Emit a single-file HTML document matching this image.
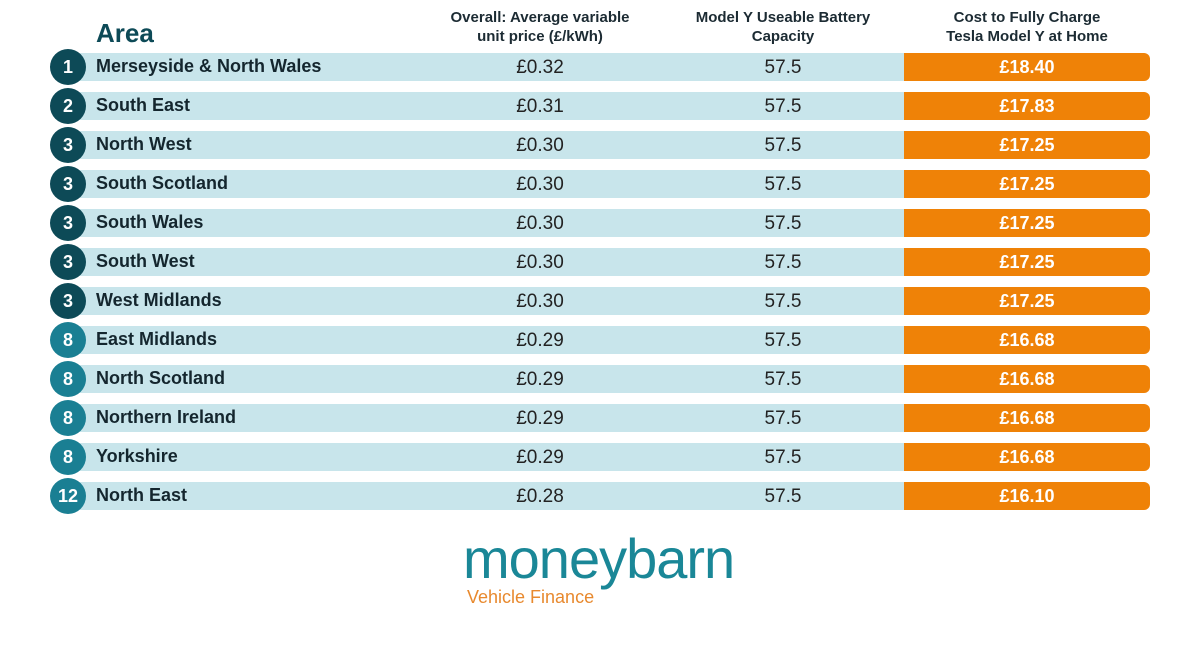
<!DOCTYPE html>
<html><head><meta charset="utf-8"><style>
body{margin:0;width:1200px;height:645px;background:#fff;font-family:"Liberation Sans",sans-serif;position:relative;overflow:hidden}
.a{position:absolute}
.h{position:absolute;text-align:center;font-size:15px;font-weight:bold;line-height:19px;color:#1c2b33;top:8px}
.row{position:absolute;left:0;height:28px;width:1200px}
.bar{position:absolute;left:70px;width:834px;height:28px;background:#c8e5eb}
.or{position:absolute;left:904px;width:246px;height:28px;background:#ef8207;border-radius:0 6px 6px 0;color:#fff;font-weight:bold;font-size:18px;text-align:center;line-height:29px}
.c{position:absolute;left:50px;top:-4px;width:36px;height:36px;border-radius:50%;color:#fff;font-size:18px;font-weight:bold;text-align:center;line-height:37px}
.n{position:absolute;left:96px;top:-1px;font-size:18px;font-weight:bold;line-height:28px;color:#14262e}
.p{position:absolute;top:1px;width:200px;text-align:center;font-size:19px;line-height:28px;color:#222}
</style></head><body>
<div class="a" style="left:96px;top:18px;font-size:26px;font-weight:bold;color:#0d4a57">Area</div>
<div class="h" style="left:420px;width:240px">Overall: Average variable<br>unit price (£/kWh)</div>
<div class="h" style="left:663px;width:240px">Model Y Useable Battery<br>Capacity</div>
<div class="h" style="left:907px;width:240px">Cost to Fully Charge<br>Tesla Model Y at Home</div>
<div id="rows"></div>
<div class="a" style="left:463px;top:526px;font-size:56px;color:#1a8797;letter-spacing:-1px;font-weight:300">moneybarn</div>
<div class="a" style="left:467px;top:587px;font-size:18px;color:#e8892e">Vehicle Finance</div>
<script>
var d=[["1","Merseyside & North Wales","0.32","18.40"],["2","South East","0.31","17.83"],["3","North West","0.30","17.25"],["3","South Scotland","0.30","17.25"],["3","South Wales","0.30","17.25"],["3","South West","0.30","17.25"],["3","West Midlands","0.30","17.25"],["8","East Midlands","0.29","16.68"],["8","North Scotland","0.29","16.68"],["8","Northern Ireland","0.29","16.68"],["8","Yorkshire","0.29","16.68"],["12","North East","0.28","16.10"]];
var h="";d.forEach(function(r,i){var t=53+39*i;var col=i<7?"#0d4a57":"#1a7f93";
h+='<div class="row" style="top:'+t+'px"><div class="bar"></div><div class="or">£'+r[3]+'</div><div class="c" style="background:'+col+'">'+r[0]+'</div><div class="n">'+r[1].replace("&","&amp;")+'</div><div class="p" style="left:440px">£'+r[2]+'</div><div class="p" style="left:683px">57.5</div></div>';});
document.getElementById("rows").innerHTML=h;
</script>
</body></html>
